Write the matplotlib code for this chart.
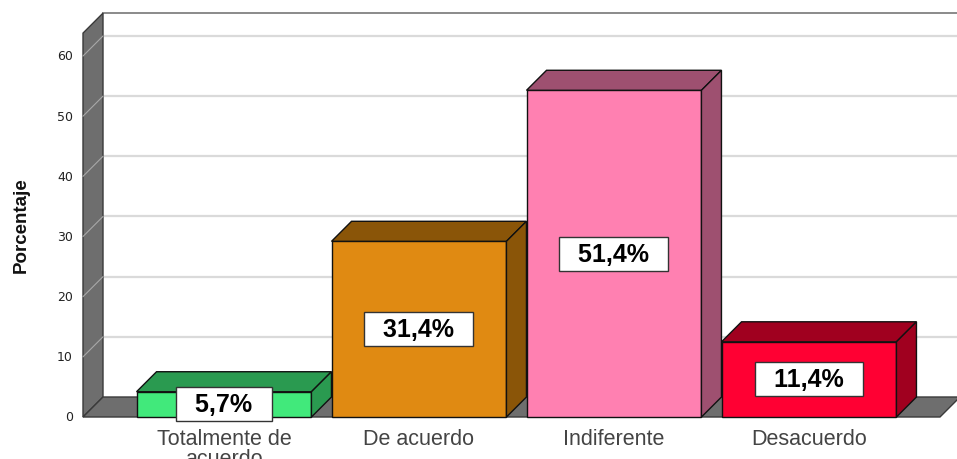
import matplotlib
matplotlib.use("Agg")
import matplotlib.pyplot as plt
from matplotlib.patches import Polygon

categories = ["Totalmente de\nacuerdo", "De acuerdo", "Indiferente", "Desacuerdo"]
bar_heights = [4.2, 29.2, 54.3, 12.5]
percent_labels = ["5,7%", "31,4%", "51,4%", "11,4%"]
y_ticks = [0, 10, 20, 30, 40, 50, 60]
y_label = "Porcentaje"

front_colors = ["#41E97B", "#E08A12", "#FF80B1", "#FF0033"]
shade_colors = ["#2A9A50", "#8A5508", "#9E5070", "#A0001F"]

W, H = 957, 460
fig = plt.figure(figsize=(W / 100, H / 100), dpi=100)
ax = fig.add_axes([0, 0, 1, 1])

# layout: pixel mapping of the front plane
x0_px, step_px = 224, 195
y0_px, unit_px = 418, 6.017
ax.set_xlim((0 - x0_px) / step_px, (W - x0_px) / step_px)
ax.set_ylim((y0_px - H) / unit_px, y0_px / unit_px)
ax.axis("off")

dx = 20 / step_px
dy = 20 / unit_px
wall_x = (83 - x0_px) / step_px
right_x = (940 - x0_px) / step_px
ymax = 63.8
wall_col = "#6E6E6E"

# back wall grid lines
for v in y_ticks[1:]:
    ax.plot([wall_x + dx, right_x + dx + 1], [v + dy, v + dy], color="#DADADA", lw=1.6, zorder=1)
# top edge of back wall
ax.plot([wall_x + dx, right_x + dx + 1], [ymax + dy, ymax + dy], color="#8A8A8A", lw=1.4, zorder=1)

# left wall
ax.add_patch(Polygon([(wall_x, 0), (wall_x, ymax), (wall_x + dx, ymax + dy), (wall_x + dx, dy)],
                     closed=True, fc=wall_col, ec="#3A3A3A", lw=1, zorder=2))
for v in y_ticks[1:]:
    ax.plot([wall_x, wall_x + dx], [v, v + dy], color="#A8A8A8", lw=0.8, zorder=2)
# floor
ax.add_patch(Polygon([(wall_x, 0), (right_x, 0), (right_x + dx, dy), (wall_x + dx, dy)],
                     closed=True, fc=wall_col, ec="#3A3A3A", lw=1, zorder=2))

# tick labels
for v in y_ticks:
    ax.text(wall_x - 10 / step_px, v, str(v), ha="right", va="center", fontsize=9,
            family="DejaVu Sans", color="#222222", zorder=5)

ax.text((21 - x0_px) / step_px, (y0_px - 225) / unit_px, y_label, rotation=90, ha="center",
        va="center", fontsize=13.5, fontweight="bold", family="Liberation Sans", color="#111111")

bw = 0.897
for i, (h, fc, sc, lab, cat) in enumerate(zip(bar_heights, front_colors, shade_colors,
                                                percent_labels, categories)):
    z = 3 + i * 0.1
    ax.bar(i, h, width=bw, color=fc, edgecolor="#111111", lw=1, zorder=z)
    l, r = i - bw / 2, i + bw / 2
    ax.add_patch(Polygon([(l, h), (r, h), (r + dx, h + dy), (l + dx, h + dy)], closed=True,
                         fc=sc, ec="#111111", lw=1, zorder=z))
    ax.add_patch(Polygon([(r, 0), (r + dx, dy), (r + dx, h + dy), (r, h)], closed=True,
                         fc=sc, ec="#111111", lw=1, zorder=z))
    ax.text(i, h / 2, "  " + lab + "  ", ha="center", va="center", fontsize=18, fontweight="bold",
            family="Liberation Sans", color="black", zorder=4,
            bbox=dict(boxstyle="square,pad=0.2", fc="white", ec="#333333", lw=1))
    ax.text(i, (y0_px - 429) / unit_px, cat, ha="center", va="top", fontsize=15.5,
            family="Liberation Sans", color="#444444", linespacing=0.95, zorder=5)

fig.savefig("out.png", dpi=100)
